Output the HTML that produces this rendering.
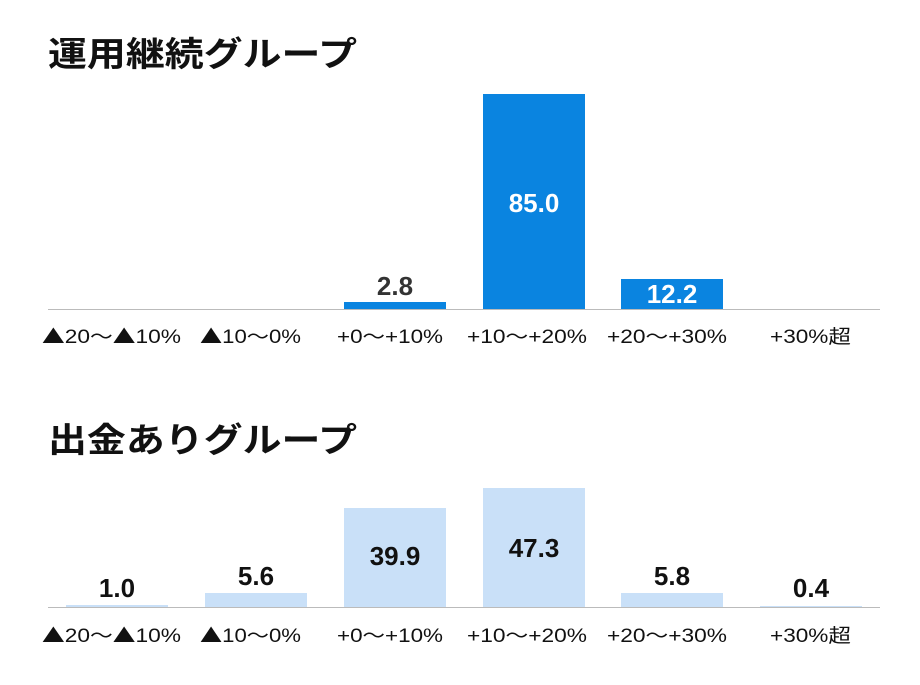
<!DOCTYPE html>
<html><head><meta charset="utf-8"><style>
body{margin:0;background:#fff;}
svg text{font-family:"Liberation Sans","Noto Sans CJK JP",sans-serif;}
.j{font-family:"Noto Sans CJK JP",sans-serif;}
</style></head><body>
<svg width="920" height="680" xmlns="http://www.w3.org/2000/svg">
<rect width="920" height="680" fill="#fff"/>
<text x="48" y="66" font-size="34" font-weight="bold" fill="#111" class="j" textLength="309" lengthAdjust="spacingAndGlyphs">運用継続グループ</text>
<rect x="344" y="302" width="102" height="7" fill="#0a84e0"/>
<rect x="483" y="94" width="102" height="215" fill="#0a84e0"/>
<rect x="621" y="279" width="102" height="30" fill="#0a84e0"/>
<line x1="48" y1="309.5" x2="880" y2="309.5" stroke="#bbb" stroke-width="1"/>
<g font-size="26" text-anchor="middle" font-weight="bold">
<text x="395" y="295" fill="#333">2.8</text>
<text x="534" y="212" fill="#fff">85.0</text>
<text x="672" y="303" fill="#fff">12.2</text>
</g>
<g font-size="19" fill="#111">
<text x="42" y="343" textLength="139" lengthAdjust="spacingAndGlyphs"><tspan class="j">▲</tspan>20<tspan class="j">～▲</tspan>10%</text>
<text x="200" y="343" textLength="101" lengthAdjust="spacingAndGlyphs"><tspan class="j">▲</tspan>10<tspan class="j">～</tspan>0%</text>
<text x="337" y="343" textLength="106" lengthAdjust="spacingAndGlyphs">+0<tspan class="j">～</tspan>+10%</text>
<text x="467" y="343" textLength="120" lengthAdjust="spacingAndGlyphs">+10<tspan class="j">～</tspan>+20%</text>
<text x="607" y="343" textLength="120" lengthAdjust="spacingAndGlyphs">+20<tspan class="j">～</tspan>+30%</text>
<text x="770" y="343" textLength="81" lengthAdjust="spacingAndGlyphs">+30%<tspan class="j">超</tspan></text>
</g>
<text x="48" y="452" font-size="34" font-weight="bold" fill="#111" class="j" textLength="309" lengthAdjust="spacingAndGlyphs">出金ありグループ</text>
<g fill="#c9e0f8">
<rect x="66" y="605" width="102" height="2.5"/>
<rect x="205" y="593" width="102" height="14"/>
<rect x="344" y="508" width="102" height="100"/>
<rect x="483" y="488" width="102" height="120"/>
<rect x="621" y="593" width="102" height="15"/>
<rect x="760" y="606" width="102" height="1"/>
</g>
<line x1="48" y1="607.5" x2="880" y2="607.5" stroke="#bbb" stroke-width="1"/>
<g font-size="26" text-anchor="middle" font-weight="bold" fill="#111">
<text x="117" y="597">1.0</text>
<text x="256" y="585">5.6</text>
<text x="395" y="565">39.9</text>
<text x="534" y="557">47.3</text>
<text x="672" y="585">5.8</text>
<text x="811" y="597">0.4</text>
</g>
<g font-size="19" fill="#111">
<text x="42" y="642" textLength="139" lengthAdjust="spacingAndGlyphs"><tspan class="j">▲</tspan>20<tspan class="j">～▲</tspan>10%</text>
<text x="200" y="642" textLength="101" lengthAdjust="spacingAndGlyphs"><tspan class="j">▲</tspan>10<tspan class="j">～</tspan>0%</text>
<text x="337" y="642" textLength="106" lengthAdjust="spacingAndGlyphs">+0<tspan class="j">～</tspan>+10%</text>
<text x="467" y="642" textLength="120" lengthAdjust="spacingAndGlyphs">+10<tspan class="j">～</tspan>+20%</text>
<text x="607" y="642" textLength="120" lengthAdjust="spacingAndGlyphs">+20<tspan class="j">～</tspan>+30%</text>
<text x="770" y="642" textLength="81" lengthAdjust="spacingAndGlyphs">+30%<tspan class="j">超</tspan></text>
</g>
</svg>
</body></html>
